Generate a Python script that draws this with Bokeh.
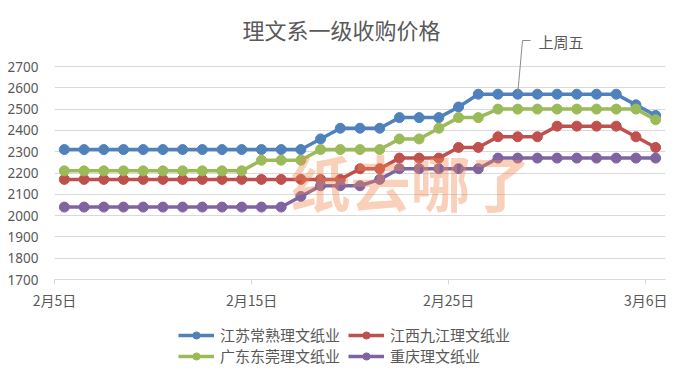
import pandas as pd
from bokeh.plotting import figure
from bokeh.layouts import column
from bokeh.models import FixedTicker, Label, Legend, LegendItem, Arrow
from bokeh.embed import file_html
from bokeh.resources import INLINE

# ---------------- data ----------------
title_text = "理文系一级收购价格"
dates = pd.date_range("2020-02-05", "2020-03-06", freq="D")
date_labels = [f"{d.month}月{d.day}日" for d in dates]
tick_labels = ["2月5日", "2月15日", "2月25日", "3月6日"]
y_ticks = [1700, 1800, 1900, 2000, 2100, 2200, 2300, 2400, 2500, 2600, 2700]

series_names = ["江苏常熟理文纸业", "江西九江理文纸业", "广东东莞理文纸业", "重庆理文纸业"]
jiangsu = [2310, 2310, 2310, 2310, 2310, 2310, 2310, 2310, 2310, 2310, 2310, 2310, 2310,
           2360, 2410, 2410, 2410, 2460, 2460, 2460, 2510, 2570, 2570, 2570, 2570, 2570,
           2570, 2570, 2570, 2520, 2470]
jiangxi = [2170, 2170, 2170, 2170, 2170, 2170, 2170, 2170, 2170, 2170, 2170, 2170, 2170,
           2170, 2170, 2220, 2220, 2270, 2270, 2270, 2320, 2320, 2370, 2370, 2370, 2420,
           2420, 2420, 2420, 2370, 2320]
guangdong = [2210, 2210, 2210, 2210, 2210, 2210, 2210, 2210, 2210, 2210, 2260, 2260, 2260,
             2310, 2310, 2310, 2310, 2360, 2360, 2410, 2460, 2460, 2500, 2500, 2500, 2500,
             2500, 2500, 2500, 2500, 2450]
chongqing = [2040, 2040, 2040, 2040, 2040, 2040, 2040, 2040, 2040, 2040, 2040, 2040, 2090,
             2140, 2140, 2140, 2170, 2220, 2220, 2220, 2220, 2220, 2270, 2270, 2270, 2270,
             2270, 2270, 2270, 2270, 2270]
series_values = [jiangsu, jiangxi, guangdong, chongqing]
colors = ["#4f81bd", "#c0504d", "#9bbb59", "#8064a2"]

annotation_text = "上周五"
annotation_date = "2月28日"
watermark_text = "纸去哪了"

# ---------------- layout constants ----------------
W, H = 679, 376
H1 = 316                       # main chart height, legend strip below
H2 = H - H1
FL, FR, FT, FB = 54, 665, 66, 279  # plot-area edges (pixels) where 2700 / 1700 lie
n = len(date_labels)
x_start, x_end = 0, n
y0, y1 = y_ticks[0], y_ticks[-1]
y_top = y1 + FT * (y1 - y0) / (FB - FT)   # frame extends to canvas top


def px_x(px):
    return x_start + (px - FL) * (x_end - x_start) / (FR - FL)


def px_y(py):
    return y1 - (py - FT) * (y1 - y0) / (FB - FT)


cjk = "Noto Sans CJK SC"
grey = "#595959"

p = figure(width=W, height=H1, x_range=(x_start, x_end), y_range=(y0, y_top),
           output_backend="svg", toolbar_location=None,
           min_border_left=FL, min_border_right=W - FR,
           min_border_top=0, min_border_bottom=H1 - FB)
p.outline_line_color = None
p.background_fill_color = "white"
p.border_fill_color = "white"

xs = [i + 0.5 for i in range(n)]

for name, vals, c in zip(series_names, series_values, colors):
    p.line(xs, vals, line_color=c, line_width=3.5)
    p.scatter(xs, vals, size=10, fill_color=c, line_color=c)

# axes
p.xaxis.ticker = FixedTicker(ticks=[date_labels.index(t) for t in tick_labels])
p.xaxis.major_label_overrides = {date_labels.index(t): t for t in tick_labels}
p.xaxis.axis_line_color = "#d9d9d9"
p.xaxis.major_tick_line_color = "#d9d9d9"
p.xaxis.major_tick_out = 5
p.xaxis.major_tick_in = 0
p.xaxis.minor_tick_line_color = None
p.xaxis.major_label_text_font = cjk
p.xaxis.major_label_text_font_size = "14px"
p.xaxis.major_label_text_color = grey
p.xaxis.major_label_standoff = 5

p.yaxis.ticker = FixedTicker(ticks=y_ticks)
p.yaxis.axis_line_color = None
p.yaxis.major_tick_line_color = None
p.yaxis.minor_tick_line_color = None
p.yaxis.major_label_text_font = "Noto Sans"
p.yaxis.major_label_text_font_size = "13.5px"
p.yaxis.major_label_text_color = grey
p.yaxis.major_label_standoff = 10

p.xgrid.grid_line_color = None
p.ygrid.grid_line_color = "#d9d9d9"
p.ygrid.grid_line_width = 1

# watermark
p.add_layout(Label(x=px_x(410), y=px_y(180), text=watermark_text, text_align="center",
                   text_baseline="middle", text_font=cjk, text_font_size="60px",
                   text_font_style="bold", text_color="#f08a50", text_alpha=0.4))

# title
p.add_layout(Label(x=px_x(341), y=px_y(28), text=title_text, text_align="center",
                   text_baseline="middle", text_font=cjk, text_font_size="22px",
                   text_color=grey))

# annotation
idx = date_labels.index(annotation_date)
ax, ay = xs[idx], jiangsu[idx]
p.add_layout(Arrow(end=None, x_start=ax, y_start=ay, x_end=px_x(522), y_end=px_y(40),
                   line_color="#8c8c8c", line_width=1))
p.add_layout(Arrow(end=None, x_start=px_x(522), y_start=px_y(40), x_end=px_x(530), y_end=px_y(40),
                   line_color="#8c8c8c", line_width=1))
p.add_layout(Label(x=px_x(538), y=px_y(41), text=annotation_text, text_align="left",
                   text_baseline="middle", text_font=cjk, text_font_size="15px",
                   text_color=grey))

# ---------------- legend strip ----------------
# same series drawn again, outside this strip's visible range, only to feed the legend
q = figure(width=W, height=H2, x_range=(0, 1), y_range=(0, 1),
           x_axis_type=None, y_axis_type=None,
           output_backend="svg", toolbar_location=None,
           min_border_left=0, min_border_right=0, min_border_top=0, min_border_bottom=0)
q.outline_line_color = None
q.xgrid.grid_line_color = None
q.ygrid.grid_line_color = None
q.background_fill_color = "white"
q.border_fill_color = "white"

items = []
for name, vals, c in zip(series_names, series_values, colors):
    r1 = q.line(xs, vals, line_color=c, line_width=3.5)
    r2 = q.scatter(xs, vals, size=10, fill_color=c, line_color=c)
    items.append(LegendItem(label=name, renderers=[r1, r2]))

legend = Legend(items=items, ncols=2, location=(178 - FL, 10), orientation="horizontal")
legend.label_text_font = cjk
legend.label_text_font_size = "15px"
legend.label_text_color = grey
legend.glyph_width = 36
legend.glyph_height = 18
legend.label_height = 18
legend.label_width = 128
legend.label_standoff = 6
legend.spacing = 0
legend.padding = 0
legend.margin = 0
legend.border_line_color = None
legend.background_fill_alpha = 0
q.add_layout(legend, "center")

layout = column(p, q, spacing=0)
open("out.html", "w").write(file_html(layout, INLINE))
